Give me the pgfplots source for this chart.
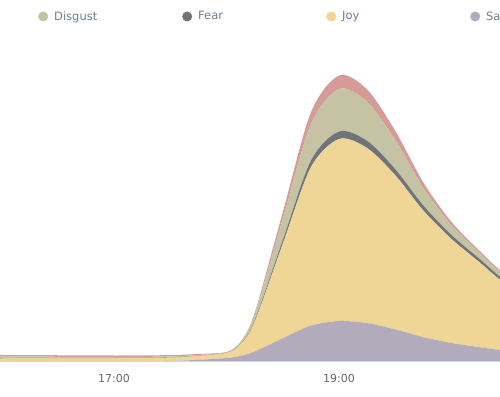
\documentclass[border=0pt]{standalone}
\usepackage{pgfplots}
\pgfplotsset{compat=1.18}
\usepackage{pgfplotstable}
\usepackage{fontspec}
\setmainfont{DejaVu Sans}
\definecolor{angerc}{HTML}{D49B98}
\definecolor{disgc}{HTML}{C5C3A3}
\definecolor{fearc}{HTML}{6F737A}
\definecolor{joyc}{HTML}{EFD596}
\definecolor{sadc}{HTML}{B1ABBB}
\definecolor{axisc}{HTML}{CCD6EB}
\definecolor{tickc}{HTML}{666666}
\definecolor{legc}{HTML}{6E7F8F}

\pgfplotstableread{
t      sad   joy    fear  disgust anger
15     1.0   2.5    0.5   1.5     1.5
16     1.0   2.5    0.5   1.5     1.5
17     0.7   3.0    0.3   1.0     1.5
17.5   1.1   3.25   0.3   0.9     1.35
17.75  2.2   3.9    0.25  0.7     1.0
18     4.0   5.0    0.2   0.4     0.4
18.125 6.1   11.5   0.4   1.65    0.55
18.25  10.4  29.7   1.2   5.9     1.7
18.5   23.7  94.3   3.8   21.2    6.6
18.75  36.4  158.3  6.5   36.7    11.6
19     41.0  182.0  7.5   42.5    13.5
19.25  38.9  175.0  7.2   39.0    12.4
19.5   32.6  154.1  6.1   29.1    9.2
19.75  24.8  126.6  5.0   17.5    5.5
20     19.0  104.0  4.0   10.0    3.0
20.25  14.8  84.8   3.4   6.2     1.9
20.5   11.1  65.3   2.9   4.6     1.6
21     6.0   35.0   2.0   4.0     1.5
}\emotions

\begin{document}
\begin{tikzpicture}
\useasboundingbox (0,0) rectangle (500bp,397bp);
\clip (0,0) rectangle (500bp,397bp);
\begin{axis}[
  at={(0bp,35bp)}, anchor=south west,
  scale only axis, width=500bp, height=300bp,
  xmin=15.987, xmax=20.431, ymin=0, ymax=300,
  stack plots=y, area style,
  axis on top=true,
  axis x line*=bottom, axis y line=none,
  x axis line style={draw=axisc, line width=1bp, -},
  xtick={17,19}, xticklabels={17:00,19:00},
  major tick length=0pt, ytick=\empty,
  xticklabel style={font=\fontsize{11bp}{13bp}\selectfont, text=tickc, anchor=north, inner sep=0pt, yshift=-12bp},
  legend columns=-1,
  legend style={draw=none, fill=none, inner sep=0pt, at={(-0.212,1.1517)}, anchor=west,
    nodes={inner sep=0pt}, cells={anchor=center},
    font=\fontsize{11.5bp}{13bp}\selectfont, text=legc,
    /tikz/every even column/.style={column sep=0pt}},
  legend image code/.code={\fill[#1] (5bp,0bp) circle (5bp);},
]
\addplot[fill=sadc, draw=none, smooth, forget plot] table[x=t, y=sad] {\emotions} \closedcycle;
\addplot[fill=joyc, draw=none, smooth, forget plot] table[x=t, y=joy] {\emotions} \closedcycle;
\addplot[fill=fearc, draw=none, smooth, forget plot] table[x=t, y=fear] {\emotions} \closedcycle;
\addplot[fill=disgc, draw=none, smooth, forget plot] table[x=t, y=disgust] {\emotions} \closedcycle;
\addplot[fill=angerc, draw=none, smooth, forget plot] table[x=t, y=anger] {\emotions} \closedcycle;

\addlegendimage{fill=angerc, draw=none}
\addlegendentry{\makebox[134bp][l]{\hspace{6bp}Anger}}
\addlegendimage{fill=disgc, draw=none}
\addlegendentry{\makebox[134bp][l]{\hspace{6bp}Disgust}}
\addlegendimage{fill=fearc, draw=none}
\addlegendentry{\makebox[134bp][l]{\hspace{6bp}Fear}}
\addlegendimage{fill=joyc, draw=none}
\addlegendentry{\makebox[134bp][l]{\hspace{6bp}Joy}}
\addlegendimage{fill=sadc, draw=none}
\addlegendentry{\makebox[134bp][l]{\hspace{6bp}Sadness}}
\end{axis}
\end{tikzpicture}
\end{document}
